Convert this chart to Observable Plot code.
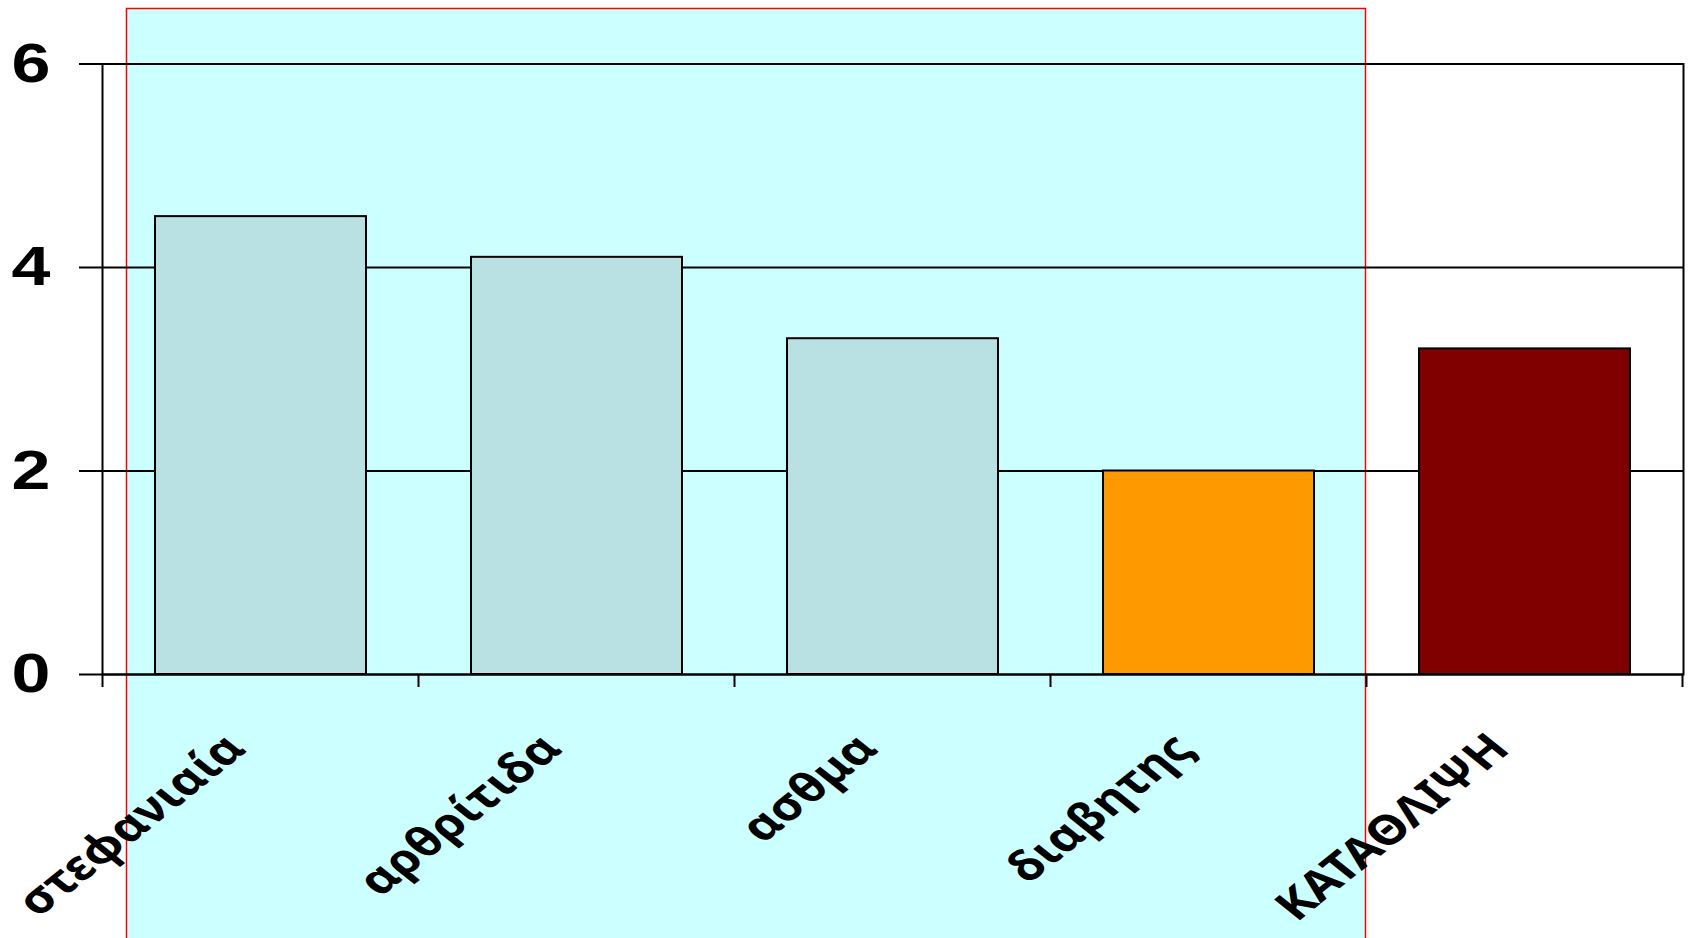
<!DOCTYPE html>
<html>
<head>
<meta charset="utf-8">
<script src="https://cdn.jsdelivr.net/npm/d3@7"></script>
<script src="https://cdn.jsdelivr.net/npm/@observablehq/plot@0.6"></script>
<style>
  html, body { margin: 0; padding: 0; background: #ffffff; }
  #chart svg { display: block; }
</style>
</head>
<body>
<div id="chart"></div>
<script>
// Conditions and their values
const categories = ["στεφανιαία", "αρθρίτιδα", "ασθμα", "διαβητης", "ΚΑΤΑΘΛΙΨΗ"];
const values = [4.5, 4.1, 3.3, 2.0, 3.2];
const barColors = ["#b9e0e2", "#b9e0e2", "#b9e0e2", "#ff9900", "#800000"];
const yTicks = [0, 2, 4, 6];
// Conditions grouped inside the shaded panel
const highlighted = ["στεφανιαία", "αρθρίτιδα", "ασθμα", "διαβητης"];

// Labels are drawn slightly widened, as in the original slide
const textStretch = 1.25;

const rows = categories.map((category, i) => ({category, value: values[i], color: barColors[i]}));

// Band helpers shared by the custom marks
function band(x, c) {
  const step = x.step(), bw = x.bandwidth();
  const start = x(c) - (step - bw) / 2;
  return {start, end: start + step, step};
}

// Shaded panel behind the first four conditions
function highlightPanel(index, scales, channels, dims) {
  const x = scales.x;
  const a = band(x, highlighted[0]);
  const b = band(x, highlighted[highlighted.length - 1]);
  const left = a.start + 24;
  const right = b.end - 1;
  const top = scales.y(6) - 55;
  const bottom = dims.height + 10;
  const g = d3.create("svg:g");
  g.append("rect")
    .attr("x", left).attr("y", top)
    .attr("width", right - left).attr("height", bottom - top)
    .attr("fill", "#ccffff")
    .attr("stroke", "#ff0000")
    .attr("stroke-width", 1.5);
  return g.node();
}

// Outer tick marks below the x axis at band boundaries
function bandTicks(index, scales, channels, dims) {
  const x = scales.x, y0 = scales.y(0);
  const g = d3.create("svg:g").attr("stroke", "#000").attr("stroke-width", 2);
  const edges = categories.map(c => band(x, c).start);
  edges.push(band(x, categories[categories.length - 1]).end);
  for (const e of edges) {
    g.append("line").attr("x1", e).attr("x2", e).attr("y1", y0).attr("y2", y0 + 13);
  }
  return g.node();
}

const chart = Plot.plot({
  width: 1688,
  height: 938,
  marginLeft: 102,
  marginRight: 5,
  marginTop: 63.5,
  marginBottom: 264,
  x: {domain: categories, paddingInner: 0.332, paddingOuter: 0.166, label: null},
  y: {domain: [0, 6], label: null},
  color: {type: "identity"},
  marks: [
    highlightPanel,
    Plot.ruleY(yTicks, {stroke: "#000", strokeWidth: 2, insetLeft: -23}),
    Plot.frame({stroke: "#000", strokeWidth: 2}),
    Plot.barY(rows, {x: "category", y: "value", fill: "color", stroke: "#000", strokeWidth: 2}),
    bandTicks,
    Plot.axisY({
      ticks: yTicks, tickSize: 0, tickPadding: 52, tickFormat: d => String(d),
      fontSize: 56, fontWeight: "bold", fontFamily: "Liberation Sans", fill: "#000", label: null
    }),
    Plot.axisX({
      tickSize: 0, tickRotate: -45, tickPadding: 67, dx: -25,
      fontSize: 41, fontWeight: "bold", fontFamily: "Noto Sans", fill: "#000", label: null
    })
  ]
});

// Widen the tick labels horizontally around their anchor points
d3.select(chart).selectAll('g[aria-label="y-axis tick label"] text').each(function () {
  const t = d3.select(this);
  const x = +t.attr("x") || 0, y = +t.attr("y") || 0;
  const prev = t.attr("transform") || "";
  t.attr("transform", `${prev} translate(${x},${y}) scale(${textStretch},1) translate(${-x},${-y})`);
});
d3.select(chart).selectAll('g[aria-label="x-axis tick label"] text').each(function () {
  const t = d3.select(this);
  const prev = t.attr("transform") || "";
  t.attr("transform", prev.replace(/rotate\(/, `scale(${textStretch},1) rotate(`));
});

document.getElementById("chart").appendChild(chart);
</script>
</body>
</html>
